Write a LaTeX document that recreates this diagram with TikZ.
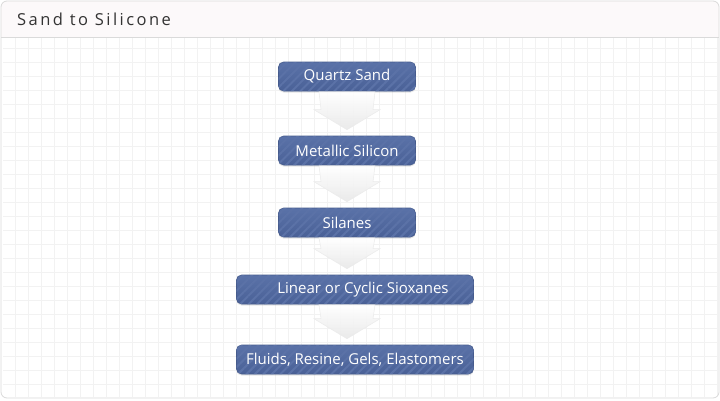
\documentclass[tikz,border=0pt]{standalone}
\usepackage{fontspec}
\setmainfont{Open Sans}
\usetikzlibrary{calc,shadows,patterns.meta}
\definecolor{stagetop}{HTML}{5A72A8}
\definecolor{stagebot}{HTML}{4A6197}
\definecolor{stageline}{HTML}{465B8C}
\definecolor{stripe}{HTML}{5B72A7}
\definecolor{headfill}{HTML}{FCF9FA}
\definecolor{frameline}{HTML}{DADADA}
\definecolor{gridline}{HTML}{F2F2F2}
\definecolor{titletext}{HTML}{333333}

\begin{document}
\begin{tikzpicture}[x=1pt,y=1pt]
\tikzstyle{every node}+=[inner sep=0pt]
\tikzstyle{stage}=[rounded corners=5pt, top color=stagetop, bottom color=stagebot, draw=stageline, line width=0.6pt, minimum height=29, text=white, font=\fontsize{15}{18}\selectfont, drop shadow={shadow xshift=0pt, shadow yshift=-1.5pt, opacity=0.2}, postaction={pattern={Lines[angle=45,distance=6pt,line width=2pt]}, pattern color=stripe}]
\tikzstyle{flow}=[top color=white, bottom color=black!9, draw=black!8, line width=0.5pt, fill opacity=0.9]
\useasboundingbox (0,0) rectangle (720,400);
\begin{scope}
\clip [rounded corners=6pt] (1,2) rectangle (719,399);
\fill [white] (1,2) rectangle (719,399);
\draw [gridline, line width=0.7pt, xstep=13, ystep=14, shift={(2,1.7)}] (1,1) grid (716,361);
\fill [headfill] (1,363) rectangle (719,399);
\end{scope}
\draw [frameline, line width=0.8pt] (1,363) -- (719,363);
\draw [frameline, line width=0.8pt, rounded corners=6pt] (1,2) rectangle (719,399);
\node [anchor=base west, text=titletext, font=\fontsize{16.5}{19}\selectfont\addfontfeatures{LetterSpace=15}] (title) at (17,374) {Sand to Silicone};
\node [stage, minimum width=137] (quartz) at (347,323.5) {Quartz Sand};
\node [stage, minimum width=137] (metal) at (347,249.5) {Metallic Silicon};
\node [stage, minimum width=137] (silane) at (347,177.5) {Silanes};
\node [stage, minimum width=237] (siloxane) at (355,110.5) {\hspace*{16pt}Linear or Cyclic Sioxanes};
\node [stage, minimum width=237] (product) at (355,40.5) {Fluids, Resine, Gels, Elastomers};
\draw [flow] ($(quartz.south)+(-28,-0.5)$) -- ($(metal.north)+(-26,26)$) -- ($(metal.north)+(-33,26)$) -- ($(metal.north)+(0,6)$) -- ($(metal.north)+(33,26)$) -- ($(metal.north)+(26,26)$) -- ($(quartz.south)+(28,-0.5)$) -- cycle;
\draw [flow] ($(metal.south)+(-28,-0.5)$) -- ($(silane.north)+(-26,26)$) -- ($(silane.north)+(-33,26)$) -- ($(silane.north)+(0,6)$) -- ($(silane.north)+(33,26)$) -- ($(silane.north)+(26,26)$) -- ($(metal.south)+(28,-0.5)$) -- cycle;
\draw [flow] ($(silane.south)+(-28,-0.5)$) -- ($(siloxane.north)+(-34,26)$) -- ($(siloxane.north)+(-41,26)$) -- ($(siloxane.north)+(-8,6)$) -- ($(siloxane.north)+(25,26)$) -- ($(siloxane.north)+(18,26)$) -- ($(silane.south)+(28,-0.5)$) -- cycle;
\draw [flow] ($(siloxane.south)+(-36,-0.5)$) -- ($(product.north)+(-34,26)$) -- ($(product.north)+(-41,26)$) -- ($(product.north)+(-8,6)$) -- ($(product.north)+(25,26)$) -- ($(product.north)+(18,26)$) -- ($(siloxane.south)+(20,-0.5)$) -- cycle;
\end{tikzpicture}
\end{document}
